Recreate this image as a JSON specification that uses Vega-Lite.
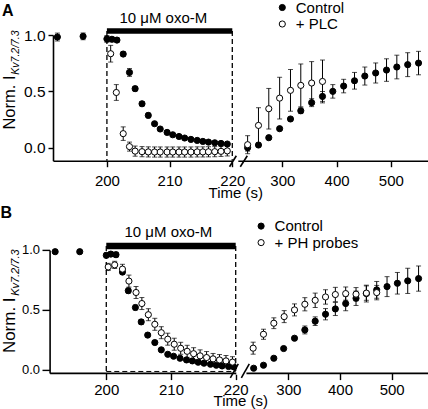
{
  "$schema": "https://vega.github.io/schema/vega-lite/v6.json",
  "padding": {"left": 0, "top": 0, "right": 0, "bottom": 0},
  "spacing": 2.9,
  "config": {
    "font": "Liberation Sans",
    "view": {"stroke": null},
    "axis": {"grid": false, "domainColor": "black", "tickColor": "black", "labelColor": "black", "titleColor": "black", "domainWidth": 1.6, "tickWidth": 1.4, "titleFontWeight": "normal", "labelFlush": false, "labelOverlap": false},
    "legend": {"labelColor": "black"},
    "title": {"color": "black"}
  },
  "resolve": {"scale": {"x": "independent", "y": "independent", "fill": "independent"}, "legend": {"fill": "independent"}},
  "datasets": {
    "A": [
      {"t": 192.1, "v": 0.982, "e": 0.035, "g": "Control"},
      {"t": 196.2, "v": 0.988, "e": 0.03, "g": "Control"},
      {"t": 200.0, "v": 0.965, "e": 0.03, "g": "Control"},
      {"t": 200.8, "v": 0.962, "e": 0.02, "g": "Control"},
      {"t": 201.6, "v": 0.955, "e": 0.02, "g": "Control"},
      {"t": 202.6, "v": 0.831, "e": 0.02, "g": "Control"},
      {"t": 203.6, "v": 0.668, "e": 0.035, "g": "Control"},
      {"t": 204.5, "v": 0.524, "e": 0.02, "g": "Control"},
      {"t": 205.6, "v": 0.39, "e": 0.02, "g": "Control"},
      {"t": 206.6, "v": 0.287, "e": 0.02, "g": "Control"},
      {"t": 207.6, "v": 0.213, "e": 0.015, "g": "Control"},
      {"t": 208.5, "v": 0.166, "e": 0.015, "g": "Control"},
      {"t": 209.6, "v": 0.136, "e": 0.015, "g": "Control"},
      {"t": 210.5, "v": 0.115, "e": 0.01, "g": "Control"},
      {"t": 211.5, "v": 0.1, "e": 0.01, "g": "Control"},
      {"t": 212.4, "v": 0.086, "e": 0.01, "g": "Control"},
      {"t": 213.4, "v": 0.074, "e": 0.01, "g": "Control"},
      {"t": 214.4, "v": 0.065, "e": 0.01, "g": "Control"},
      {"t": 215.3, "v": 0.056, "e": 0.01, "g": "Control"},
      {"t": 216.2, "v": 0.05, "e": 0.01, "g": "Control"},
      {"t": 217.2, "v": 0.044, "e": 0.01, "g": "Control"},
      {"t": 218.2, "v": 0.038, "e": 0.01, "g": "Control"},
      {"t": 219.2, "v": 0.033, "e": 0.01, "g": "Control"},
      {"t": 236, "v": 0.0, "e": 0.03, "g": "Control"},
      {"t": 256, "v": 0.024, "e": 0.01, "g": "Control"},
      {"t": 275, "v": 0.089, "e": 0.01, "g": "Control"},
      {"t": 295, "v": 0.169, "e": 0.01, "g": "Control"},
      {"t": 315, "v": 0.255, "e": 0.015, "g": "Control"},
      {"t": 334, "v": 0.328, "e": 0.025, "g": "Control"},
      {"t": 354, "v": 0.4, "e": 0.035, "g": "Control"},
      {"t": 374, "v": 0.455, "e": 0.044, "g": "Control"},
      {"t": 393, "v": 0.5, "e": 0.06, "g": "Control"},
      {"t": 413, "v": 0.547, "e": 0.06, "g": "Control"},
      {"t": 433, "v": 0.594, "e": 0.074, "g": "Control"},
      {"t": 452, "v": 0.636, "e": 0.08, "g": "Control"},
      {"t": 472, "v": 0.663, "e": 0.089, "g": "Control"},
      {"t": 492, "v": 0.689, "e": 0.1, "g": "Control"},
      {"t": 511, "v": 0.716, "e": 0.105, "g": "Control"},
      {"t": 531, "v": 0.737, "e": 0.106, "g": "Control"},
      {"t": 551, "v": 0.751, "e": 0.104, "g": "Control"},
      {"t": 200.6, "v": 0.834, "e": 0.074, "g": "+ PLC"},
      {"t": 201.5, "v": 0.49, "e": 0.07, "g": "+ PLC"},
      {"t": 202.6, "v": 0.125, "e": 0.06, "g": "+ PLC"},
      {"t": 203.6, "v": 0.01, "e": 0.04, "g": "+ PLC"},
      {"t": 204.5, "v": -0.03, "e": 0.045, "g": "+ PLC"},
      {"t": 205.6, "v": -0.035, "e": 0.045, "g": "+ PLC"},
      {"t": 206.6, "v": -0.037, "e": 0.045, "g": "+ PLC"},
      {"t": 207.6, "v": -0.038, "e": 0.045, "g": "+ PLC"},
      {"t": 208.5, "v": -0.038, "e": 0.045, "g": "+ PLC"},
      {"t": 209.6, "v": -0.038, "e": 0.045, "g": "+ PLC"},
      {"t": 210.5, "v": -0.038, "e": 0.045, "g": "+ PLC"},
      {"t": 211.5, "v": -0.038, "e": 0.045, "g": "+ PLC"},
      {"t": 212.4, "v": -0.038, "e": 0.045, "g": "+ PLC"},
      {"t": 213.4, "v": -0.038, "e": 0.045, "g": "+ PLC"},
      {"t": 214.4, "v": -0.037, "e": 0.045, "g": "+ PLC"},
      {"t": 215.3, "v": -0.037, "e": 0.045, "g": "+ PLC"},
      {"t": 216.2, "v": -0.036, "e": 0.045, "g": "+ PLC"},
      {"t": 217.2, "v": -0.035, "e": 0.045, "g": "+ PLC"},
      {"t": 218.2, "v": -0.032, "e": 0.045, "g": "+ PLC"},
      {"t": 219.2, "v": -0.028, "e": 0.045, "g": "+ PLC"},
      {"t": 236, "v": 0.027, "e": 0.08, "g": "+ PLC"},
      {"t": 256, "v": 0.198, "e": 0.157, "g": "+ PLC"},
      {"t": 275, "v": 0.346, "e": 0.18, "g": "+ PLC"},
      {"t": 295, "v": 0.44, "e": 0.185, "g": "+ PLC"},
      {"t": 315, "v": 0.509, "e": 0.185, "g": "+ PLC"},
      {"t": 334, "v": 0.553, "e": 0.19, "g": "+ PLC"},
      {"t": 354, "v": 0.574, "e": 0.19, "g": "+ PLC"},
      {"t": 374, "v": 0.588, "e": 0.19, "g": "+ PLC"}
    ],
    "B": [
      {"t": 192.1, "v": 0.985, "e": 0.01, "g": "Control"},
      {"t": 195.9, "v": 0.985, "e": 0.01, "g": "Control"},
      {"t": 200.0, "v": 0.955, "e": 0.02, "g": "Control"},
      {"t": 200.7, "v": 0.965, "e": 0.02, "g": "Control"},
      {"t": 201.5, "v": 0.96, "e": 0.02, "g": "Control"},
      {"t": 202.5, "v": 0.815, "e": 0.02, "g": "Control"},
      {"t": 203.4, "v": 0.66, "e": 0.02, "g": "Control"},
      {"t": 204.5, "v": 0.52, "e": 0.02, "g": "Control"},
      {"t": 205.4, "v": 0.4, "e": 0.02, "g": "Control"},
      {"t": 206.4, "v": 0.29, "e": 0.015, "g": "Control"},
      {"t": 207.5, "v": 0.228, "e": 0.015, "g": "Control"},
      {"t": 208.5, "v": 0.167, "e": 0.01, "g": "Control"},
      {"t": 209.5, "v": 0.13, "e": 0.01, "g": "Control"},
      {"t": 210.4, "v": 0.114, "e": 0.01, "g": "Control"},
      {"t": 211.4, "v": 0.097, "e": 0.01, "g": "Control"},
      {"t": 212.4, "v": 0.083, "e": 0.01, "g": "Control"},
      {"t": 213.3, "v": 0.075, "e": 0.01, "g": "Control"},
      {"t": 214.2, "v": 0.064, "e": 0.01, "g": "Control"},
      {"t": 215.1, "v": 0.056, "e": 0.01, "g": "Control"},
      {"t": 216.1, "v": 0.047, "e": 0.01, "g": "Control"},
      {"t": 217.0, "v": 0.039, "e": 0.01, "g": "Control"},
      {"t": 217.9, "v": 0.033, "e": 0.01, "g": "Control"},
      {"t": 218.9, "v": 0.028, "e": 0.01, "g": "Control"},
      {"t": 219.7, "v": 0.025, "e": 0.01, "g": "Control"},
      {"t": 233, "v": 0.014, "e": 0.01, "g": "Control"},
      {"t": 252, "v": 0.039, "e": 0.01, "g": "Control"},
      {"t": 272, "v": 0.097, "e": 0.01, "g": "Control"},
      {"t": 291, "v": 0.178, "e": 0.01, "g": "Control"},
      {"t": 312, "v": 0.264, "e": 0.015, "g": "Control"},
      {"t": 332, "v": 0.333, "e": 0.033, "g": "Control"},
      {"t": 352, "v": 0.406, "e": 0.036, "g": "Control"},
      {"t": 372, "v": 0.464, "e": 0.047, "g": "Control"},
      {"t": 391, "v": 0.508, "e": 0.055, "g": "Control"},
      {"t": 411, "v": 0.553, "e": 0.06, "g": "Control"},
      {"t": 431, "v": 0.597, "e": 0.06, "g": "Control"},
      {"t": 451, "v": 0.636, "e": 0.07, "g": "Control"},
      {"t": 471, "v": 0.667, "e": 0.07, "g": "Control"},
      {"t": 491, "v": 0.694, "e": 0.083, "g": "Control"},
      {"t": 511, "v": 0.722, "e": 0.09, "g": "Control"},
      {"t": 531, "v": 0.742, "e": 0.105, "g": "Control"},
      {"t": 552, "v": 0.761, "e": 0.105, "g": "Control"},
      {"t": 200.3, "v": 0.858, "e": 0.03, "g": "+ PH probes"},
      {"t": 201.3, "v": 0.875, "e": 0.03, "g": "+ PH probes"},
      {"t": 202.5, "v": 0.84, "e": 0.04, "g": "+ PH probes"},
      {"t": 203.5, "v": 0.74, "e": 0.05, "g": "+ PH probes"},
      {"t": 204.6, "v": 0.645, "e": 0.05, "g": "+ PH probes"},
      {"t": 205.5, "v": 0.553, "e": 0.05, "g": "+ PH probes"},
      {"t": 206.5, "v": 0.46, "e": 0.05, "g": "+ PH probes"},
      {"t": 207.5, "v": 0.38, "e": 0.05, "g": "+ PH probes"},
      {"t": 208.5, "v": 0.31, "e": 0.05, "g": "+ PH probes"},
      {"t": 209.5, "v": 0.256, "e": 0.05, "g": "+ PH probes"},
      {"t": 210.5, "v": 0.214, "e": 0.05, "g": "+ PH probes"},
      {"t": 211.5, "v": 0.18, "e": 0.05, "g": "+ PH probes"},
      {"t": 212.5, "v": 0.155, "e": 0.05, "g": "+ PH probes"},
      {"t": 213.5, "v": 0.135, "e": 0.05, "g": "+ PH probes"},
      {"t": 214.5, "v": 0.117, "e": 0.05, "g": "+ PH probes"},
      {"t": 215.5, "v": 0.103, "e": 0.05, "g": "+ PH probes"},
      {"t": 216.5, "v": 0.092, "e": 0.045, "g": "+ PH probes"},
      {"t": 217.5, "v": 0.083, "e": 0.045, "g": "+ PH probes"},
      {"t": 218.5, "v": 0.075, "e": 0.045, "g": "+ PH probes"},
      {"t": 219.5, "v": 0.065, "e": 0.045, "g": "+ PH probes"},
      {"t": 232, "v": 0.181, "e": 0.05, "g": "+ PH probes"},
      {"t": 252, "v": 0.297, "e": 0.042, "g": "+ PH probes"},
      {"t": 272, "v": 0.389, "e": 0.045, "g": "+ PH probes"},
      {"t": 292, "v": 0.444, "e": 0.05, "g": "+ PH probes"},
      {"t": 312, "v": 0.5, "e": 0.05, "g": "+ PH probes"},
      {"t": 332, "v": 0.547, "e": 0.055, "g": "+ PH probes"},
      {"t": 352, "v": 0.58, "e": 0.06, "g": "+ PH probes"},
      {"t": 372, "v": 0.608, "e": 0.06, "g": "+ PH probes"},
      {"t": 391, "v": 0.628, "e": 0.06, "g": "+ PH probes"},
      {"t": 411, "v": 0.636, "e": 0.055, "g": "+ PH probes"},
      {"t": 431, "v": 0.631, "e": 0.055, "g": "+ PH probes"},
      {"t": 451, "v": 0.64, "e": 0.06, "g": "+ PH probes"},
      {"t": 471, "v": 0.644, "e": 0.06, "g": "+ PH probes"}
    ]
  },
  "vconcat": [
    {
      "width": 375.3,
      "height": 125.7,
      "title": {"text": "A", "anchor": "start", "frame": "group", "dx": -51, "dy": 18.7, "offset": 0, "fontSize": 16, "fontWeight": "bold"},
      "layer": [
        {"data": {"values": [{"t": 200}, {"t": 220}]}, "mark": {"type": "rule", "strokeDash": [5, 3], "strokeWidth": 1.3, "color": "black"}, "encoding": {"x": {"field": "t", "type": "quantitative"}, "y": {"datum": 1.035}, "y2": {"datum": -0.115}}},
        {"data": {"values": [{}]}, "mark": {"type": "rule", "strokeWidth": 5.4, "color": "black"}, "encoding": {"x": {"datum": 200}, "x2": {"datum": 220}, "y": {"datum": 1.035}}},
        {"data": {"values": [{}]}, "mark": {"type": "text", "text": "10 μM oxo-M", "fontSize": 15, "baseline": "alphabetic", "align": "center", "color": "black"}, "encoding": {"x": {"datum": 209}, "y": {"datum": 1.109}}},
        {"data": {"values": [{}]}, "mark": {"type": "rule", "strokeWidth": 4, "color": "white"}, "encoding": {"x": {"datum": 220.007}, "x2": {"datum": 220.09}, "y": {"datum": -0.115}}},
        {"data": {"values": [{}]}, "mark": {"type": "rule", "strokeWidth": 1.6, "color": "black"}, "encoding": {"x": {"datum": 219.56}, "x2": {"datum": 220.06}, "y": {"datum": -0.169}, "y2": {"datum": -0.071}}},
        {"data": {"values": [{}]}, "mark": {"type": "rule", "strokeWidth": 1.6, "color": "black"}, "encoding": {"x": {"datum": 222.5}, "x2": {"datum": 235.4}, "y": {"datum": -0.169}, "y2": {"datum": -0.071}}},
        {"data": {"values": [{}]}, "mark": {"type": "text", "text": "Kv7.2/7.3", "fontSize": 10.5, "fontStyle": "italic", "angle": 270, "align": "left", "baseline": "middle", "color": "black"}, "encoding": {"x": {"datum": 185.46}, "y": {"datum": 0.648}}},
        {"data": {"name": "A"}, "mark": {"type": "errorbar", "ticks": {"size": 5, "thickness": 1}, "color": "black", "thickness": 1}, "encoding": {"x": {"field": "t", "type": "quantitative", "title": "Time (s)"}, "y": {"field": "v", "type": "quantitative", "title": "Norm. I"}, "yError": {"field": "e"}}},
        {
          "data": {"name": "A"},
          "mark": {"type": "circle", "size": 38, "stroke": "black", "strokeWidth": 1, "opacity": 1},
          "encoding": {
            "x": {"field": "t", "type": "quantitative",
              "scale": {"domain": [191.4, 220, 220.1, 569], "range": [0, 179.3, 186, 375.3], "nice": false, "zero": false},
              "axis": {"values": [200, 210, 220, 300, 400, 500], "format": "d", "title": "Time (s)", "titleFontSize": 15, "titleX": 182.3, "titleY": 36.5, "titleAlign": "center", "titleBaseline": "alphabetic", "labelFontSize": 15, "labelBaseline": "alphabetic", "tickSize": 6, "labelPadding": 18.3}},
            "y": {"field": "v", "type": "quantitative",
              "scale": {"domain": [-0.115, 1.0], "nice": false, "zero": false},
              "axis": {"values": [0, 0.5, 1], "format": ".1f", "title": "Norm. I", "titleFontSize": 16.5, "titleAngle": 270, "titleX": -43.4, "titleY": 40, "titleAlign": "right", "titleBaseline": "middle", "labelFontSize": 15.5, "tickSize": 5, "labelPadding": 3}},
            "fill": {"field": "g", "type": "nominal", "scale": {"domain": ["Control", "+ PLC"], "range": ["black", "white"]},
              "legend": {"orient": "none", "legendX": 221.8, "legendY": -35, "title": null, "labelFontSize": 15, "symbolSize": 38, "symbolType": "circle", "symbolStrokeColor": "black", "symbolStrokeWidth": 1, "rowPadding": 0.5, "labelOffset": 6, "direction": "vertical"}}
          }
        }
      ]
    },
    {
      "width": 375.3,
      "height": 123,
      "title": {"text": "B", "anchor": "start", "frame": "group", "dx": -52.5, "dy": 2.1, "offset": 0, "fontSize": 16, "fontWeight": "bold"},
      "layer": [
        {"data": {"values": [{"t": 200}, {"t": 220}]}, "mark": {"type": "rule", "strokeDash": [5, 3], "strokeWidth": 1.3, "color": "black"}, "encoding": {"x": {"field": "t", "type": "quantitative"}, "y": {"datum": 1.033}, "y2": {"datum": -0.025}}},
        {"data": {"values": [{}]}, "mark": {"type": "rule", "strokeDash": [5, 3], "strokeWidth": 1, "color": "black"}, "encoding": {"x": {"datum": 200}, "x2": {"datum": 220}, "y": {"datum": -0.013}}},
        {"data": {"values": [{}]}, "mark": {"type": "rule", "strokeWidth": 6.5, "color": "black"}, "encoding": {"x": {"datum": 200}, "x2": {"datum": 220}, "y": {"datum": 1.033}}},
        {"data": {"values": [{}]}, "mark": {"type": "text", "text": "10 μM oxo-M", "fontSize": 15, "baseline": "alphabetic", "align": "center", "color": "black"}, "encoding": {"x": {"datum": 209.6}, "y": {"datum": 1.108}}},
        {"data": {"values": [{}]}, "mark": {"type": "rule", "strokeWidth": 4, "color": "white"}, "encoding": {"x": {"datum": 220.005}, "x2": {"datum": 220.095}, "y": {"datum": -0.025}}},
        {"data": {"values": [{}]}, "mark": {"type": "rule", "strokeWidth": 1.6, "color": "black"}, "encoding": {"x": {"datum": 219.17}, "x2": {"datum": 220.023}, "y": {"datum": -0.067}, "y2": {"datum": 0.05}}},
        {"data": {"values": [{}]}, "mark": {"type": "rule", "strokeWidth": 1.6, "color": "black"}, "encoding": {"x": {"datum": 220.05}, "x2": {"datum": 224.55}, "y": {"datum": -0.067}, "y2": {"datum": 0.05}}},
        {"data": {"values": [{}]}, "mark": {"type": "text", "text": "Kv7.2/7.3", "fontSize": 11, "fontStyle": "italic", "angle": 270, "align": "left", "baseline": "middle", "color": "black"}, "encoding": {"x": {"datum": 186.0}, "y": {"datum": 0.617}}},
        {"data": {"name": "B"}, "mark": {"type": "errorbar", "ticks": {"size": 5, "thickness": 1}, "color": "black", "thickness": 1}, "encoding": {"x": {"field": "t", "type": "quantitative", "title": "Time (s)"}, "y": {"field": "v", "type": "quantitative", "title": "Norm. I"}, "yError": {"field": "e"}}},
        {
          "data": {"name": "B"},
          "mark": {"type": "circle", "size": 38, "stroke": "black", "strokeWidth": 1, "opacity": 1},
          "encoding": {
            "x": {"field": "t", "type": "quantitative",
              "scale": {"domain": [191.24, 220, 220.1, 570.8], "range": [-3.4, 182.7, 194, 375.3], "nice": false, "zero": false},
              "axis": {"values": [200, 210, 220, 300, 400, 500], "format": "d", "title": "Time (s)", "titleFontSize": 15, "titleX": 187.3, "titleY": 32.7, "titleAlign": "center", "titleBaseline": "alphabetic", "labelFontSize": 15, "labelBaseline": "alphabetic", "tickSize": 6.7, "labelPadding": 15.3}},
            "y": {"field": "v", "type": "quantitative",
              "scale": {"domain": [-0.025, 1.0], "nice": false, "zero": false},
              "axis": {"values": [0, 0.5, 1], "format": ".1f", "title": "Norm. I", "titleFontSize": 17, "titleAngle": 270, "titleX": -40.5, "titleY": 47, "titleAlign": "right", "titleBaseline": "middle", "labelFontSize": 13, "tickSize": 7.6, "labelPadding": 2.4, "offset": 3.4}},
            "fill": {"field": "g", "type": "nominal", "scale": {"domain": ["Control", "+ PH probes"], "range": ["black", "white"]},
              "legend": {"orient": "none", "legendX": 200.6, "legendY": -31.3, "title": null, "labelFontSize": 15, "symbolSize": 38, "symbolType": "circle", "symbolStrokeColor": "black", "symbolStrokeWidth": 1, "rowPadding": 0.5, "labelOffset": 6, "direction": "vertical"}}
          }
        }
      ]
    }
  ]
}
